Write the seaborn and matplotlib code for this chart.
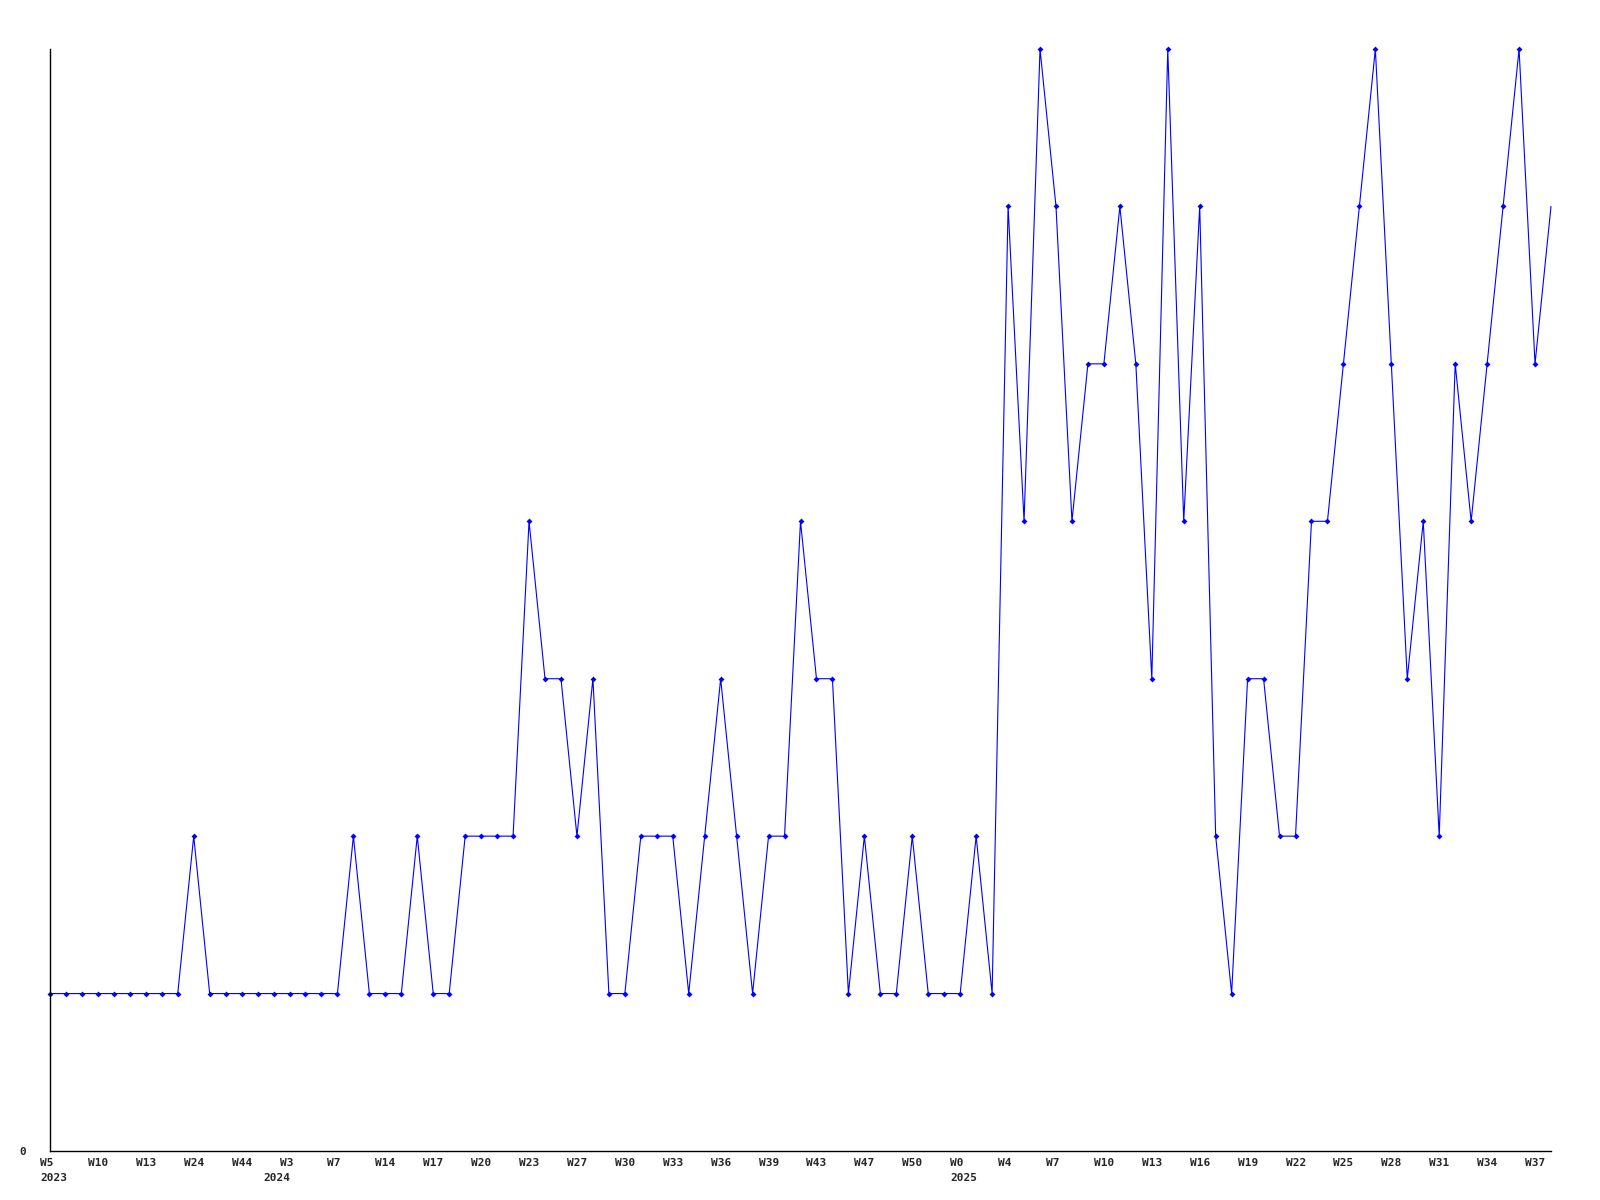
import matplotlib
matplotlib.use("Agg")
import matplotlib.pyplot as plt
import matplotlib.transforms as mtransforms
import seaborn as sns

# weekly counts
counts = [1, 1, 1, 1, 1, 1, 1, 1, 1, 2,
          1, 1, 1, 1, 1, 1, 1, 1, 1, 2,
          1, 1, 1, 2, 1, 1, 2, 2, 2, 2,
          4, 3, 3, 2, 3, 1, 1, 2, 2, 2,
          1, 2, 3, 2, 1, 2, 2, 4, 3, 3,
          1, 2, 1, 1, 2, 1, 1, 1, 2, 1,
          6, 4, 7, 6, 4, 5, 5, 6, 5, 3,
          7, 4, 6, 2, 1, 3, 3, 2, 2, 4,
          4, 5, 6, 7, 5, 3, 4, 2, 5, 4,
          5, 6, 7, 5, 6]
week_labels = ["W5", "W10", "W13", "W24", "W44", "W3", "W7", "W14", "W17", "W20",
               "W23", "W27", "W30", "W33", "W36", "W39", "W43", "W47", "W50", "W0",
               "W4", "W7", "W10", "W13", "W16", "W19", "W22", "W25", "W28", "W31",
               "W34", "W37"]
year_labels = ["2023", "2024", "2025"]
year_pos = [0, 14, 57]

sns.set_style("white")
plt.rcParams['font.family'] = ['DejaVu Sans Mono', 'DejaVu Sans']

fig = plt.figure(figsize=(16, 12), dpi=100)
ax = fig.add_axes([50 / 1600, 1 - 1151 / 1200, 1501 / 1600, 1102 / 1200])

x = list(range(len(counts)))
# last point has no marker in the original
sns.lineplot(x=x, y=counts, ax=ax, color="#0000ff", linewidth=0.8,
             marker="D", markersize=3, markeredgewidth=0, clip_on=False,
             markevery=x[:-1])

ax.set_xlim(0, len(counts) - 1)
ax.set_ylim(0, 7)
sns.despine(ax=ax)
for s in ["left", "bottom"]:
    ax.spines[s].set_color("black")
    ax.spines[s].set_linewidth(1)

ax.set_yticks([0])
ax.set_yticklabels(["0"], fontsize=8, fontweight="bold")
ax.tick_params(axis="y", length=0, pad=17)

ax.set_xticks(list(range(0, len(counts), 3))[:len(week_labels)])
ax.set_xticklabels(week_labels, fontsize=8, fontweight="bold", ha="left")
ax.tick_params(axis="x", length=0, pad=5)
shift = mtransforms.ScaledTranslation(-10 / 100, 0, fig.dpi_scale_trans)
for lab in ax.get_xticklabels():
    lab.set_transform(lab.get_transform() + shift)

ytrans = mtransforms.offset_copy(ax.get_xaxis_transform(), fig=fig, x=-10, y=0, units="dots")
for pos, yr in zip(year_pos, year_labels):
    ax.text(pos, -0.0245, yr, transform=ytrans, ha="left", va="center",
            fontsize=8, fontweight="bold")

ax.set_xlabel("")
ax.set_ylabel("")
fig.savefig("out.png", dpi=100)
